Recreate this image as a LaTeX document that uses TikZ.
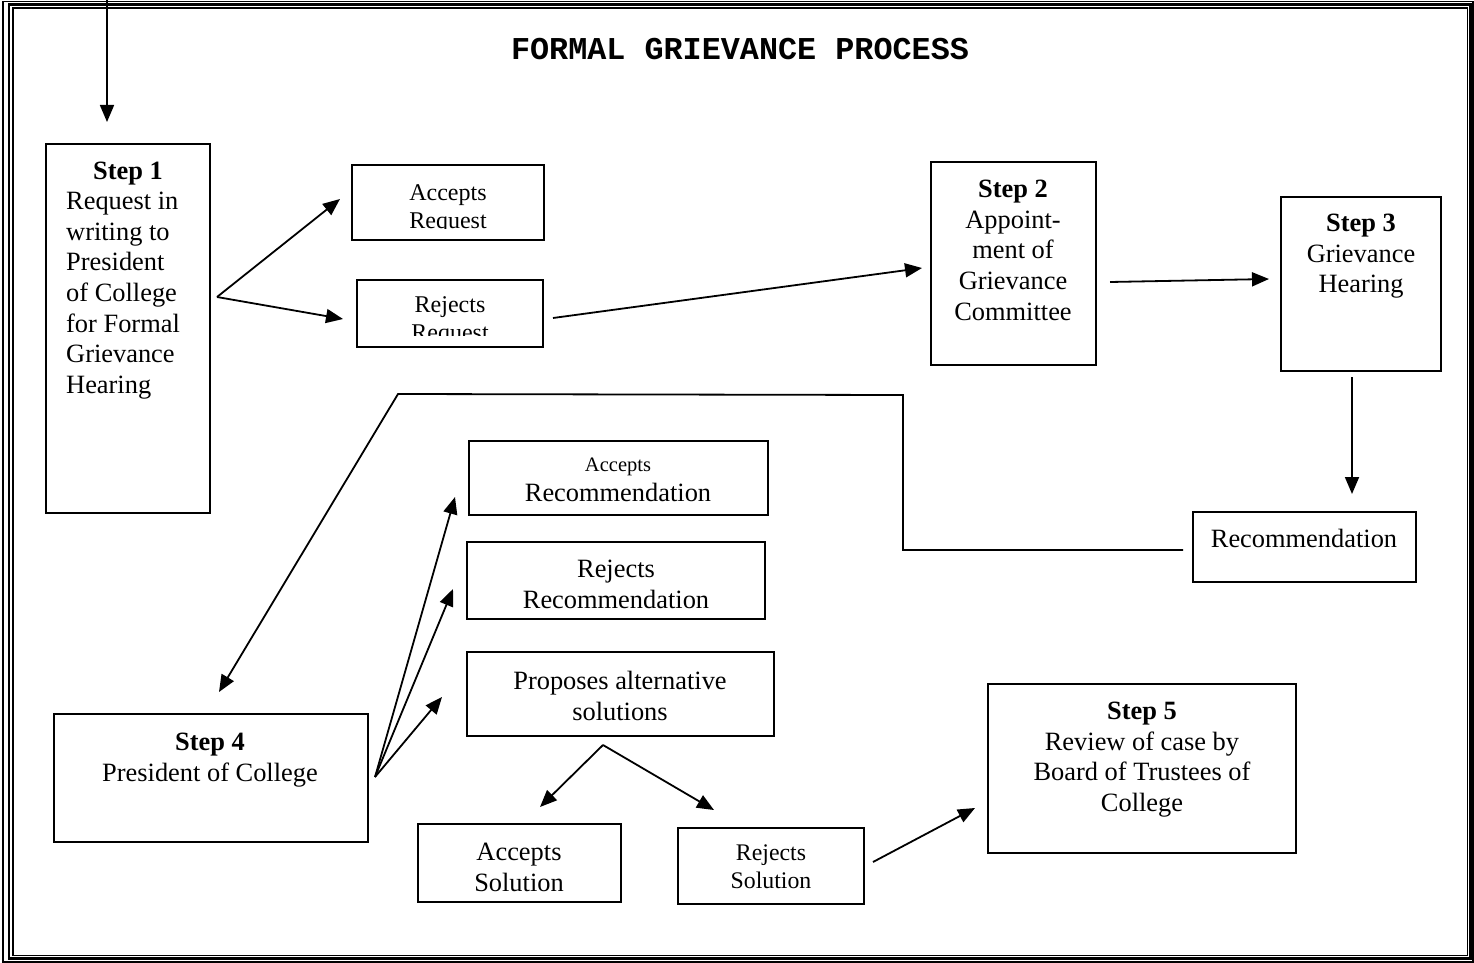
\documentclass[tikz,border=0pt]{standalone}
\usepackage{fontspec}
\setmainfont{Liberation Serif}
\newfontfamily\titlefont{Liberation Mono}
\usetikzlibrary{arrows.meta}
\newcommand\Fbig{\fontsize{26.4}{30.6}\selectfont}
\newcommand\Fmid{\fontsize{24}{28}\selectfont}
\newcommand\Fsml{\fontsize{20.5}{24}\selectfont}
\newcommand\Fsol{\fontsize{23.8}{27.5}\selectfont}
\begin{document}
\begin{tikzpicture}[x=1pt,y=-1pt,
  box/.style={draw,line width=1.7pt,inner sep=0pt},
  txt/.style={inner sep=0pt,anchor=north,align=center,font=\Fbig},
  ln/.style={line width=1.8pt},
  arr/.style={line width=1.8pt,-{Triangle[length=17pt,width=14pt]}}]
\useasboundingbox (0,0) rectangle (1474,963);
\fill[white] (0,0) rectangle (1474,963);
% border
\draw[line width=1.2pt] (3,1.5) rectangle (1473,962);
\draw[line width=2.6pt] (9,4.5) rectangle (1470.5,958.5);
\draw[line width=1.2pt] (13,8) rectangle (1467.5,955.8);
% title
\node[inner sep=0pt,font=\titlefont\bfseries\fontsize{31.8}{36}\selectfont] (title) at (740,49.5) {FORMAL GRIEVANCE PROCESS};
% boxes
\node[box,minimum width=164pt,minimum height=369pt] (s1) at (128,328.5) {};
\node[box,minimum width=192pt,minimum height=75pt] (ar) at (448,202.5) {};
\node[box,minimum width=186pt,minimum height=67pt] (rr) at (450,313.5) {};
\node[box,minimum width=165pt,minimum height=203pt] (s2) at (1013.5,263.5) {};
\node[box,minimum width=160pt,minimum height=174pt] (s3) at (1361,284) {};
\node[box,minimum width=223pt,minimum height=70pt] (rec) at (1304.5,547) {};
\node[box,minimum width=299pt,minimum height=74pt] (arec) at (618.5,478) {};
\node[box,minimum width=298pt,minimum height=77pt] (rrec) at (616,580.5) {};
\node[box,minimum width=307pt,minimum height=84pt] (prop) at (620.5,694) {};
\node[box,minimum width=314pt,minimum height=128pt] (s4) at (211,778) {};
\node[box,minimum width=203pt,minimum height=78pt] (as) at (519.5,863) {};
\node[box,minimum width=186pt,minimum height=76pt] (rs) at (771,866) {};
\node[box,minimum width=308pt,minimum height=169pt] (s5) at (1142,768.5) {};
% texts
\node[txt,align=left,anchor=north west] (s1t) at (66,161.5)
  {\hspace*{27pt}\textbf{Step 1}\\Request in\\writing to\\President\\of College\\for Formal\\Grievance\\Hearing};
\begin{scope}
\clip (352,165) rectangle (544,228.5);
\node[txt,font=\Fmid] (art) at (448,184) {Accepts\\Request};
\end{scope}
\begin{scope}
\clip (357,280) rectangle (543,335.5);
\node[txt,font=\Fmid] (rrt) at (450,296.5) {Rejects\\Request};
\end{scope}
\node[txt] (s2t) at (1013,180) {\textbf{Step 2}\\Appoint-\\ment of\\Grievance\\Committee};
\node[txt] (s3t) at (1361,214) {\textbf{Step 3}\\Grievance\\Hearing};
\node[txt] (rect) at (1304,529) {Recommendation};
\node[txt] (arect) at (618,458) {{\Fsml Accepts}\\[-1pt]Recommendation};
\node[txt] (rrect) at (616,560) {Rejects\\Recommendation};
\node[txt] (propt) at (620,671) {Proposes alternative\\solutions};
\node[txt] (s4t) at (210,733) {\textbf{Step 4}\\President of College};
\node[txt] (ast) at (519,843) {Accepts\\Solution};
\node[txt,font=\Fsol] (rst) at (771,845) {Rejects\\Solution};
\node[txt] (s5t) at (1142,702) {\textbf{Step 5}\\Review of case by\\Board of Trustees of\\College};
% connector points
\coordinate (top0) at (107,0);
\coordinate (top1) at (107,122);
\coordinate (f1) at (217,297);
\coordinate (fa) at (340,199);
\coordinate (fr) at (343,319);
\coordinate (r1) at (553,318);
\coordinate (r2) at (922,268);
\coordinate (b1) at (1110,282);
\coordinate (b2) at (1269,279);
\coordinate (c1) at (1352,377);
\coordinate (c2) at (1352,494);
\coordinate (d1) at (1183,550);
\coordinate (d2) at (903,550);
\coordinate (d3) at (903,395);
\coordinate (d4) at (398,394);
\coordinate (d5) at (219,692);
\coordinate (g0) at (375,777);
\coordinate (g1) at (455,497);
\coordinate (g2) at (453,589);
\coordinate (g3) at (442,697);
\coordinate (h0) at (603,745);
\coordinate (h1) at (540,807);
\coordinate (h2) at (714,810);
\coordinate (k1) at (873,862);
\coordinate (k2) at (975,808);
% connectors
\draw[arr] (top0) -- (top1);
\draw[arr] (f1) -- (fa);
\draw[arr] (f1) -- (fr);
\draw[arr] (r1) -- (r2);
\draw[arr] (b1) -- (b2);
\draw[arr] (c1) -- (c2);
\draw[arr,line join=miter] (d1) -- (d2) -- (d3) -- (d4) -- (d5);
\draw[arr] (g0) -- (g1);
\draw[arr] (g0) -- (g2);
\draw[arr] (g0) -- (g3);
\draw[arr] (h0) -- (h1);
\draw[arr] (h0) -- (h2);
\draw[arr] (k1) -- (k2);
\end{tikzpicture}
\end{document}
